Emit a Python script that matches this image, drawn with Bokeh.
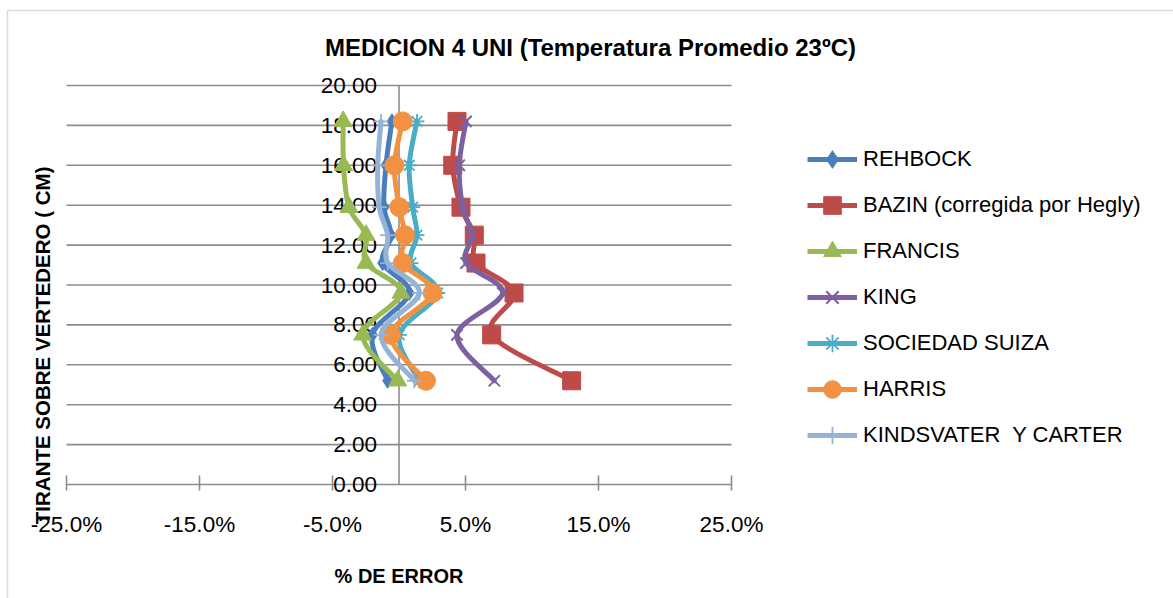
import math

from bokeh.core.properties import value
from bokeh.embed import file_html
from bokeh.models import (BoxAnnotation, ColumnDataSource, Label, Legend, LegendItem,
                          Range1d)
from bokeh.plotting import figure
from bokeh.resources import INLINE

# Tirante sobre el vertedero (cm) for each reading
tirante = [5.2, 7.5, 9.6, 11.1, 12.5, 13.9, 16.0, 18.2]

# % de error of each formula at each reading
rehbock = [-0.85, -2.0, 0.77, -1.23, -0.60, -1.13, -0.98, -0.53]
bazin = [12.98, 6.97, 8.65, 5.79, 5.66, 4.66, 4.04, 4.36]
francis = [-0.10, -2.73, 0.15, -2.48, -2.48, -3.76, -4.17, -4.20]
king = [7.17, 4.36, 7.80, 5.04, 5.47, 4.79, 4.53, 5.04]
sociedad_suiza = [1.53, 0.02, 2.91, 0.90, 1.35, 1.03, 0.77, 1.35]
harris = [2.03, -0.60, 2.53, 0.28, 0.45, 0.02, -0.35, 0.28]
kindsvater_carter = [1.15, -1.35, 1.53, -0.85, -0.85, -1.48, -1.60, -1.35]

series_names = ["REHBOCK", "BAZIN (corregida por Hegly)", "FRANCIS", "KING",
                "SOCIEDAD SUIZA", "HARRIS", "KINDSVATER  Y CARTER"]

x_ticks = [-25, -15, -5, 5, 15, 25]
x_tick_labels = ["-25.0%", "-15.0%", "-5.0%", "5.0%", "15.0%", "25.0%"]
y_ticks = [0, 2, 4, 6, 8, 10, 12, 14, 16, 18, 20]
y_tick_labels = ["0.00", "2.00", "4.00", "6.00", "8.00", "10.00",
                 "12.00", "14.00", "16.00", "18.00", "20.00"]

X_MIN, X_MAX = -25, 25
Y_MIN, Y_MAX = 0, 20

# Canvas and plot-area geometry (pixels)
W, H = 1173, 598
AREA_L, AREA_R, AREA_T, AREA_B = 66, 731, 85, 484

sx = (X_MAX - X_MIN) / (AREA_R - AREA_L)   # data units per pixel, horizontal
sy = (Y_MAX - Y_MIN) / (AREA_B - AREA_T)   # data units per pixel, vertical


def dx(px):
    return X_MIN + (px - AREA_L) * sx


def dy(py):
    return Y_MIN + (AREA_B - py) * sy


FONT = "Liberation Sans"
GRID = "#8c8c8c"

styles = [
    # colour, marker, size, filled, outline width
    ("#4A7EBB", "diamond", 15, True, 1),
    ("#BE4B48", "square", 18, True, 1),
    ("#98B954", "triangle", 18, True, 1),
    ("#7D60A0", "x", 16, False, 2),
    ("#4BACC6", "asterisk", 15, False, 1.8),
    ("#F39142", "circle", 19, True, 1),
    ("#95B3D7", "cross", 15, False, 1.8),
]
series_values = [rehbock, bazin, francis, king, sociedad_suiza, harris, kindsvater_carter]


def smooth_segments(xs, ys):
    """Cubic Bezier pieces of a Catmull-Rom curve through the points."""
    n = len(xs)
    out = {k: [] for k in ("x0", "y0", "x1", "y1", "cx0", "cy0", "cx1", "cy1")}
    for i in range(n - 1):
        xp, yp = (xs[i - 1], ys[i - 1]) if i > 0 else (xs[i], ys[i])
        xn, yn = (xs[i + 2], ys[i + 2]) if i + 2 < n else (xs[i + 1], ys[i + 1])
        out["x0"].append(xs[i])
        out["y0"].append(ys[i])
        out["x1"].append(xs[i + 1])
        out["y1"].append(ys[i + 1])
        out["cx0"].append(xs[i] + (xs[i + 1] - xp) / 6)
        out["cy0"].append(ys[i] + (ys[i + 1] - yp) / 6)
        out["cx1"].append(xs[i + 1] - (xn - xs[i]) / 6)
        out["cy1"].append(ys[i + 1] - (yn - ys[i]) / 6)
    return out


p = figure(width=W, height=H,
           x_range=Range1d(dx(0), dx(W)), y_range=Range1d(dy(H), dy(0)),
           output_backend="svg", toolbar_location=None,
           x_axis_location=None, y_axis_location=None,
           min_border=0, min_border_left=0, min_border_right=0,
           min_border_top=0, min_border_bottom=0)
p.outline_line_color = None
p.background_fill_color = "white"
p.border_fill_color = "white"
for g in p.grid:
    g.visible = False

# horizontal gridlines across the plot area
p.segment(x0=[X_MIN] * len(y_ticks), x1=[X_MAX] * len(y_ticks), y0=y_ticks, y1=y_ticks,
          line_color=GRID, line_width=1.6)

# vertical axis at 0 %
p.segment(x0=[0], x1=[0], y0=[Y_MIN], y1=[Y_MAX], line_color=GRID, line_width=1.6)

# horizontal axis tick marks (crossing the axis line)
p.segment(x0=x_ticks, x1=x_ticks, y0=[Y_MIN - 6 * sy] * len(x_ticks),
          y1=[Y_MIN + 9 * sy] * len(x_ticks), line_color=GRID, line_width=1.6)

# tick labels
p.text(x=x_ticks, y=[Y_MIN] * len(x_ticks), text=x_tick_labels, y_offset=40,
       text_align="center", text_baseline="middle", text_font=value(FONT),
       text_font_size="22.5px", text_color="black")
p.text(x=[0] * len(y_ticks), y=y_ticks, text=y_tick_labels, x_offset=-22,
       text_align="right", text_baseline="middle", text_font=value(FONT),
       text_font_size="22.5px", text_color="black")

items = []
for name, vals, (color, marker, size, filled, lw) in zip(series_names, series_values, styles):
    seg = smooth_segments(vals, tirante)
    p.bezier(source=ColumnDataSource(seg), x0="x0", y0="y0", x1="x1", y1="y1",
             cx0="cx0", cy0="cy0", cx1="cx1", cy1="cy1",
             line_color=color, line_width=5, line_cap="round")
    sr = p.scatter(vals, tirante, marker=marker, size=size,
                   fill_color=color if filled else None,
                   line_color=color, line_width=lw)
    # line swatch for the legend entry (holds no visible point)
    swatch = p.line([float("nan")], [float("nan")], line_color=color, line_width=5)
    items.append(LegendItem(label=name, renderers=[swatch, sr]))

legend = Legend(items=items, location=(807, H - 457), padding=0, margin=0,
                border_line_color=None, background_fill_alpha=0,
                glyph_width=50, glyph_height=44, spacing=2, label_standoff=6,
                label_height=44, label_text_font=FONT, label_text_font_size="22px",
                label_text_color="black")
p.add_layout(legend)

# chart title, axis titles
p.add_layout(Label(x=dx(590), y=dy(47), text="MEDICION 4 UNI (Temperatura Promedio 23ºC)",
                   text_align="center", text_baseline="middle", text_font=FONT,
                   text_font_size="24px", text_font_style="bold", text_color="black"))
p.add_layout(Label(x=dx(398.5), y=dy(575), text="% DE ERROR",
                   text_align="center", text_baseline="middle", text_font=FONT,
                   text_font_size="20px", text_font_style="bold", text_color="black"))
p.add_layout(Label(x=dx(42), y=dy(342), text="TIRANTE SOBRE VERTEDERO  ( CM)",
                   angle=math.pi / 2, text_align="center", text_baseline="middle",
                   text_font=FONT, text_font_size="20.5px", text_font_style="bold",
                   text_color="black"))

# outer chart border
p.add_layout(BoxAnnotation(left=dx(7), right=dx(W + 20), top=dy(10), bottom=dy(H + 20),
                           fill_color=None, fill_alpha=0, line_color="#888888",
                           line_width=1.6))

open("out.html", "w").write(file_html(p, INLINE))
